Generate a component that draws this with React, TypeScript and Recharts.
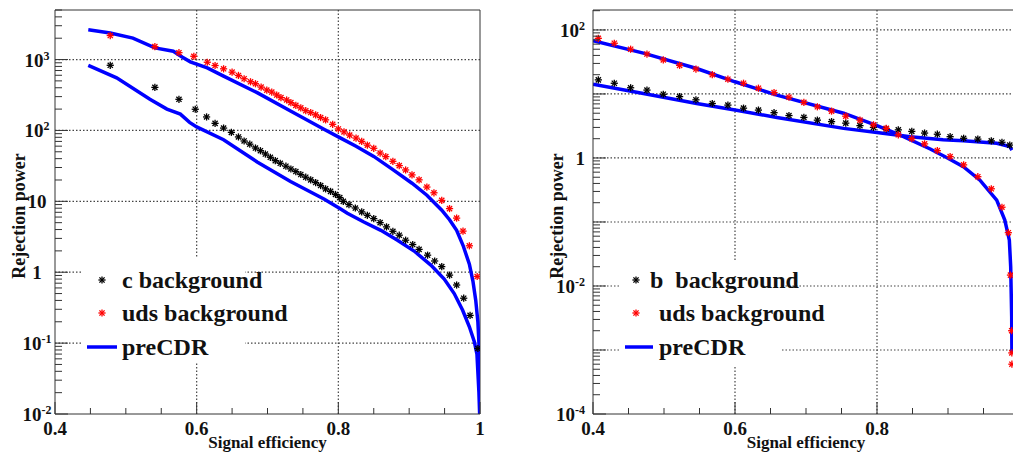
import React from 'react';
import { ComposedChart, Line, Scatter, XAxis, YAxis, ReferenceLine } from 'recharts';

const FONT = '"Liberation Serif", "Times New Roman", serif';

// ---------- Left panel (c-tagging) ----------
const cBgEff = [0.478, 0.541, 0.575, 0.598, 0.614, 0.626, 0.638, 0.649, 0.659, 0.667, 0.675, 0.683, 0.690, 0.697, 0.704, 0.711, 0.718, 0.726, 0.733, 0.740, 0.747, 0.754, 0.761, 0.768, 0.775, 0.782, 0.789, 0.796, 0.802, 0.807, 0.815, 0.824, 0.833, 0.841, 0.850, 0.859, 0.868, 0.877, 0.886, 0.895, 0.905, 0.914, 0.926, 0.936, 0.946, 0.957, 0.967, 0.977, 0.986, 0.997];
const cBgRej = [830, 405, 275, 199, 155, 126, 108, 94, 81, 71, 64, 56.5, 51.8, 46.5, 41.8, 37.5, 34.4, 31.3, 28.6, 26.3, 23.9, 21.9, 20.1, 18.4, 16.7, 15.0, 13.8, 12.5, 11.3, 10.0, 9.0, 8.05, 7.1, 6.35, 5.7, 5.0, 4.36, 3.78, 3.33, 2.83, 2.46, 2.10, 1.74, 1.44, 1.20, 0.91, 0.66, 0.43, 0.246, 0.084];

const udsBgEffL = [0.478, 0.541, 0.575, 0.596, 0.615, 0.626, 0.638, 0.650, 0.659, 0.667, 0.676, 0.683, 0.691, 0.699, 0.706, 0.713, 0.719, 0.727, 0.733, 0.740, 0.747, 0.754, 0.761, 0.768, 0.775, 0.782, 0.792, 0.800, 0.808, 0.816, 0.825, 0.833, 0.841, 0.850, 0.859, 0.867, 0.877, 0.886, 0.895, 0.904, 0.914, 0.925, 0.935, 0.946, 0.957, 0.967, 0.976, 0.985, 0.996];
const udsBgRejL = [2180, 1520, 1250, 1112, 916, 824, 740, 664, 597, 536, 486, 456, 409, 371, 348, 316, 290, 269, 247, 226, 208, 190, 179, 166, 152, 141, 122, 105, 95.5, 86, 78, 70, 62, 56, 48, 42.7, 36.7, 31.9, 27.7, 23.6, 20.1, 15.9, 13.2, 10.3, 7.9, 5.8, 3.8, 2.36, 0.87];

const preCdrCEff = [0.447, 0.487, 0.534, 0.558, 0.577, 0.59, 0.6, 0.638, 0.6854, 0.7325, 0.7797, 0.8033, 0.8127, 0.836, 0.86, 0.8835, 0.907, 0.9306, 0.9495, 0.9636, 0.9755, 0.985, 0.992, 0.9957, 0.9985, 0.9995];
const preCdrCRej = [830, 553, 275, 200, 170, 130, 112, 74, 36, 19, 10.8, 7.8, 6.8, 5.1, 3.9, 2.83, 1.99, 1.26, 0.8, 0.5, 0.29, 0.17, 0.105, 0.07, 0.02, 0.01];

const preCdrUdsEffL = [0.447, 0.478, 0.51, 0.541, 0.567, 0.58, 0.591, 0.615, 0.638, 0.6854, 0.7325, 0.7797, 0.8033, 0.825, 0.85, 0.877, 0.904, 0.925, 0.946, 0.957, 0.967, 0.976, 0.985, 0.99, 0.994, 0.997, 0.9985, 0.9995, 1.0];
const preCdrUdsRejL = [2630, 2370, 2010, 1460, 1310, 1080, 930, 764, 583, 341, 188, 104, 78, 60, 43, 28, 18, 12.2, 7.5, 5.5, 3.9, 2.4, 1.3, 0.75, 0.4, 0.2, 0.1, 0.03, 0.01];

// ---------- Right panel (b-tagging) ----------
const bBgEffR = [0.4075, 0.430, 0.453, 0.476, 0.499, 0.522, 0.545, 0.568, 0.590, 0.612, 0.633, 0.655, 0.676, 0.697, 0.716, 0.736, 0.756, 0.776, 0.795, 0.813, 0.830, 0.849, 0.867, 0.885, 0.903, 0.922, 0.942, 0.961, 0.976, 0.987];
const bBgRejR = [16.6, 14.7, 12.5, 11.5, 9.9, 9.1, 8.1, 7.1, 6.7, 6.0, 5.6, 5.1, 4.6, 4.3, 3.9, 3.7, 3.5, 3.2, 3.0, 2.85, 2.75, 2.6, 2.45, 2.35, 2.15, 2.03, 1.97, 1.85, 1.76, 1.59];

const udsBgEffR = [0.4075, 0.430, 0.453, 0.476, 0.499, 0.522, 0.545, 0.568, 0.590, 0.612, 0.633, 0.655, 0.676, 0.697, 0.716, 0.736, 0.756, 0.776, 0.795, 0.813, 0.830, 0.849, 0.867, 0.885, 0.903, 0.922, 0.942, 0.961, 0.976, 0.985, 0.988, 0.9897, 0.9899, 0.990];
const udsBgRejR = [74, 62, 50, 42, 34, 28, 24.5, 20, 17, 14.7, 12.3, 10.5, 8.9, 7.4, 6.3, 5.4, 4.5, 3.9, 3.3, 2.9, 2.3, 2.0, 1.66, 1.30, 1.05, 0.78, 0.51, 0.33, 0.17, 0.068, 0.0148, 0.002, 0.0009, 0.0006];

const preCdrBEffR = [0.4, 0.471, 0.546, 0.6, 0.659, 0.753, 0.8, 0.847, 0.893, 0.9216, 0.9686, 0.987, 0.99];
const preCdrBRejR = [14.2, 10.2, 7.1, 5.6, 4.3, 2.9, 2.5, 2.15, 1.92, 1.86, 1.70, 1.51, 1.33];

const preCdrUdsEffR = [0.4, 0.471, 0.546, 0.6, 0.659, 0.753, 0.8, 0.832, 0.875, 0.898, 0.9216, 0.945, 0.9686, 0.980, 0.9864, 0.9883, 0.9897, 0.990];
const preCdrUdsRejR = [68, 43.5, 25, 15.5, 9.6, 5.0, 3.2, 2.3, 1.38, 1.02, 0.73, 0.45, 0.22, 0.107, 0.052, 0.02, 0.0033, 0.0009];

// ---------- Axes / ticks ----------
const xTicksLeft = [0.4, 0.45, 0.5, 0.55, 0.6, 0.65, 0.7, 0.75, 0.8, 0.85, 0.9, 0.95, 1.0];
const xTicksRight = [0.4, 0.45, 0.5, 0.55, 0.6, 0.65, 0.7, 0.75, 0.8, 0.85, 0.9, 0.95];
const xMajorValues = [0.4, 0.6, 0.8, 1.0];
const xMajorLabels = ['0.4', '0.6', '0.8', '1'];
const xGridValues = [0.6, 0.8];

const leftYDomain = [0.01, 5000];
const leftYExponents = [-2, -1, 0, 1, 2, 3];
const leftYLabelBase = ['10', '10', '1', '10', '10', '10'];
const leftYLabelSup = ['-2', '-1', '', '', '2', '3'];
const leftYGrid = [0.1, 1, 10, 100, 1000];

const rightYDomain = [0.0001, 205];
const rightYExponents = [-4, -3, -2, -1, 0, 1, 2];
const rightYLabeledExp = [-4, -2, 0, 2];
const rightYLabelBase = ['10', '10', '1', '10'];
const rightYLabelSup = ['-4', '-2', '', '2'];
const rightYGrid = [0.001, 0.01, 0.1, 1, 10, 100];

const leftLegendLabels = ['c background', 'uds background', 'preCDR'];
const rightLegendLabels = ['b  background', 'uds background', 'preCDR'];

const zip = (xs: number[], ys: number[]) => xs.map((x, i) => ({ x, y: ys[i] }));

const buildLogTicks = (exps: number[], max: number) => {
  const out: number[] = [];
  exps.forEach((k) => {
    for (let m = 1; m <= 9; m++) {
      const v = Number((m * Math.pow(10, k)).toPrecision(6));
      if (v <= max) out.push(v);
    }
  });
  return out;
};

const leftYTicks = buildLogTicks(leftYExponents, leftYDomain[1]);
const rightYTicks = buildLogTicks(rightYExponents, rightYDomain[1]);

const AXIS_COLOR = '#333';
const GRID_COLOR = '#444';

const starShape = (color: string) => (props: any) => {
  const { cx, cy } = props;
  if (cx == null || cy == null) return <g />;
  const r = 3.6;
  const d = r * 0.72;
  return (
    <g stroke={color} strokeWidth={1.3}>
      <line x1={cx - r} y1={cy} x2={cx + r} y2={cy} />
      <line x1={cx} y1={cy - r} x2={cx} y2={cy + r} />
      <line x1={cx - d} y1={cy - d} x2={cx + d} y2={cy + d} />
      <line x1={cx - d} y1={cy + d} x2={cx + d} y2={cy - d} />
    </g>
  );
};

const XTick = (props: any) => {
  const { x, y, payload } = props;
  const v = payload.value;
  const idx = xMajorValues.findIndex((m) => Math.abs(m - v) < 1e-9);
  const major = idx >= 0;
  const len = major ? 12 : 6;
  return (
    <g>
      <line x1={x} y1={y} x2={x} y2={y - len} stroke={AXIS_COLOR} strokeWidth={1} />
      {major && (
        <text x={x} y={y + 21} textAnchor="middle" fontFamily={FONT} fontWeight="bold" fontSize={19} fill="#111">
          {xMajorLabels[idx]}
        </text>
      )}
    </g>
  );
};

const makeYTick = (labeledExp: number[], bases: string[], sups: string[], labelX: number, anchor: string) => (props: any) => {
  const { x, y, payload } = props;
  const v = payload.value;
  const lg = Math.log10(v);
  const k = Math.round(lg);
  const isDecade = Math.abs(lg - k) < 1e-6;
  const len = isDecade ? 13 : 7;
  const li = isDecade ? labeledExp.indexOf(k) : -1;
  return (
    <g>
      <line x1={x} y1={y} x2={x + len} y2={y} stroke={AXIS_COLOR} strokeWidth={1} />
      {li >= 0 && (
        <text x={labelX} y={y + 7} textAnchor={anchor} fontFamily={FONT} fontWeight="bold" fontSize={19} fill="#111">
          {bases[li]}
          {sups[li] ? (
            <tspan dy={-7} fontSize={12}>
              {sups[li]}
            </tspan>
          ) : null}
        </text>
      )}
    </g>
  );
};

const leftYTick = makeYTick(leftYExponents, leftYLabelBase, leftYLabelSup, 37, 'middle');
const rightYTick = makeYTick(rightYLabeledExp, rightYLabelBase, rightYLabelSup, 75, 'end');

const xTitle = (props: any) => {
  const vb = props.viewBox || { x: 0, y: 0, width: 0, height: 0 };
  return (
    <text x={vb.x + vb.width / 2} y={vb.y + 34} textAnchor="middle" fontFamily={FONT} fontWeight="bold" fontSize={17} fill="#111">
      Signal efficiency
    </text>
  );
};

const makeYTitle = (offsetX: number) => (props: any) => {
  const vb = props.viewBox || { x: 0, y: 0, width: 0, height: 0 };
  const tx = vb.x + offsetX;
  const ty = vb.y + vb.height / 2 + 4;
  return (
    <text x={tx} y={ty} transform={`rotate(-90, ${tx}, ${ty})`} textAnchor="middle" fontFamily={FONT} fontWeight="bold" fontSize={18} fill="#111">
      Rejection power
    </text>
  );
};

const gridProps = { stroke: GRID_COLOR, strokeDasharray: '1.5 2', strokeWidth: 1.2 };

const LegendBlock = ({ box, markerX, lineX1, lineX2, textX, firstTextX, labels }: any) => {
  const rows = [280, 313, 347];
  const baselines = [288, 321, 355];
  return (
    <g>
      <rect x={box[0]} y={box[1]} width={box[2]} height={box[3]} fill="#fff" />
      {starShape('#000')({ cx: markerX, cy: rows[0] })}
      {starShape('#ff0000')({ cx: markerX, cy: rows[1] })}
      <line x1={lineX1} y1={rows[2]} x2={lineX2} y2={rows[2]} stroke="#0000ff" strokeWidth={3.5} />
      {labels.map((l: string, i: number) => (
        <text key={l} x={i === 0 ? firstTextX : textX} y={baselines[i]} fontFamily={FONT} fontWeight="bold" fontSize={24} fill="#111" style={{ whiteSpace: 'pre' }}>
          {l}
        </text>
      ))}
    </g>
  );
};

export default function App() {
  return (
    <div style={{ position: 'absolute', left: 0, top: 0, width: 1013, height: 457, overflow: 'hidden', background: '#fff' }}>
      <div style={{ position: 'absolute', left: 0, top: 0 }}>
        <ComposedChart width={505} height={457} margin={{ top: 10, right: 25, left: 0, bottom: 0 }}>
          <XAxis
            dataKey="x"
            type="number"
            domain={[0.4, 1]}
            allowDataOverflow
            ticks={xTicksLeft}
            interval={0}
            tick={XTick}
            tickLine={false}
            tickSize={0}
            tickMargin={0}
            height={43}
            axisLine={{ stroke: AXIS_COLOR }}
            label={xTitle}
          />
          <YAxis
            dataKey="y"
            type="number"
            scale="log"
            domain={leftYDomain}
            allowDataOverflow
            ticks={leftYTicks}
            interval={0}
            tick={leftYTick}
            tickLine={false}
            tickSize={0}
            tickMargin={0}
            width={55}
            axisLine={{ stroke: AXIS_COLOR }}
            label={makeYTitle(25)}
          />
          {leftYGrid.map((v) => (
            <ReferenceLine key={'ly' + v} y={v} {...gridProps} />
          ))}
          {xGridValues.map((v) => (
            <ReferenceLine key={'lx' + v} x={v} {...gridProps} />
          ))}
          <ReferenceLine y={leftYDomain[1]} stroke={AXIS_COLOR} strokeWidth={1} />
          <ReferenceLine x={1} stroke={AXIS_COLOR} strokeWidth={1} />
          <Line data={zip(preCdrCEff, preCdrCRej)} dataKey="y" type="linear" stroke="#0000ff" strokeWidth={3.5} dot={false} isAnimationActive={false} />
          <Line data={zip(preCdrUdsEffL, preCdrUdsRejL)} dataKey="y" type="linear" stroke="#0000ff" strokeWidth={3.5} dot={false} isAnimationActive={false} />
          <Scatter data={zip(cBgEff, cBgRej)} shape={starShape('#000')} isAnimationActive={false} />
          <Scatter data={zip(udsBgEffL, udsBgRejL)} shape={starShape('#ff0000')} isAnimationActive={false} />
        </ComposedChart>
      </div>
      <div style={{ position: 'absolute', left: 510, top: 0 }}>
        <ComposedChart width={509} height={457} margin={{ top: 10, right: 0, left: 0, bottom: 0 }}>
          <XAxis
            dataKey="x"
            type="number"
            domain={[0.4, 1]}
            allowDataOverflow
            ticks={xTicksRight}
            interval={0}
            tick={XTick}
            tickLine={false}
            tickSize={0}
            tickMargin={0}
            height={43}
            axisLine={{ stroke: AXIS_COLOR }}
            label={xTitle}
          />
          <YAxis
            dataKey="y"
            type="number"
            scale="log"
            domain={rightYDomain}
            allowDataOverflow
            ticks={rightYTicks}
            interval={0}
            tick={rightYTick}
            tickLine={false}
            tickSize={0}
            tickMargin={0}
            width={83}
            axisLine={{ stroke: AXIS_COLOR }}
            label={makeYTitle(53)}
          />
          {rightYGrid.map((v) => (
            <ReferenceLine key={'ry' + v} y={v} {...gridProps} />
          ))}
          {xGridValues.map((v) => (
            <ReferenceLine key={'rx' + v} x={v} {...gridProps} />
          ))}
          <ReferenceLine y={rightYDomain[1]} stroke={AXIS_COLOR} strokeWidth={1} />
          <Line data={zip(preCdrBEffR, preCdrBRejR)} dataKey="y" type="linear" stroke="#0000ff" strokeWidth={3.5} dot={false} isAnimationActive={false} />
          <Line data={zip(preCdrUdsEffR, preCdrUdsRejR)} dataKey="y" type="linear" stroke="#0000ff" strokeWidth={3.5} dot={false} isAnimationActive={false} />
          <Scatter data={zip(bBgEffR, bBgRejR)} shape={starShape('#000')} isAnimationActive={false} />
          <Scatter data={zip(udsBgEffR, udsBgRejR)} shape={starShape('#ff0000')} isAnimationActive={false} />
        </ComposedChart>
      </div>
      <svg width={1013} height={457} style={{ position: 'absolute', left: 0, top: 0, pointerEvents: 'none' }}>
        <LegendBlock box={[83, 258, 162, 104]} markerX={102} lineX1={87} lineX2={117} textX={122} firstTextX={122} labels={leftLegendLabels} />
        <LegendBlock box={[620, 262, 160, 103]} markerX={636} lineX1={625} lineX2={653} textX={659} firstTextX={650} labels={rightLegendLabels} />
      </svg>
    </div>
  );
}
